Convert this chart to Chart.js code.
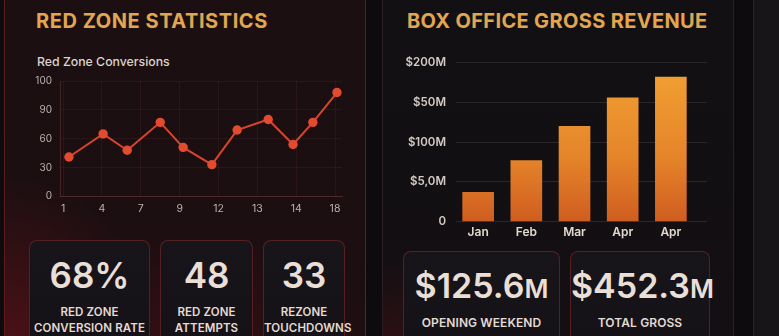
<!DOCTYPE html>
<html>
<head>
<meta charset="utf-8">
<script src="https://cdn.jsdelivr.net/npm/chart.js@4.4.1/dist/chart.umd.min.js"></script>
<style>
  html, body { margin:0; padding:0; }
  body { width:779px; height:336px; overflow:hidden; background:#0d0b0d; position:relative; font-family: Inter, "Noto Sans", sans-serif; }
  .panel { position:absolute; border-radius:10px; box-sizing:border-box; }
  #pl { left:4px; top:-12px; width:362px; height:370px; border:1px solid rgba(120,32,36,0.75);
        background: radial-gradient(ellipse 60% 70% at 0% 100%, rgba(110,20,26,0.6), rgba(0,0,0,0) 70%),
                    radial-gradient(ellipse 80% 50% at 50% 100%, rgba(80,16,20,0.5), rgba(0,0,0,0) 70%),
                    linear-gradient(180deg, #1b0f12 0%, #1c0e11 100%); }
  #pr { left:382px; top:-12px; width:352px; height:370px; border:1px solid rgba(60,40,44,0.6);
        background: radial-gradient(ellipse 50% 40% at 10% 100%, rgba(90,18,24,0.45), rgba(0,0,0,0) 70%),
                    linear-gradient(180deg, #121013 0%, #130f12 100%); }
  #pf { left:753px; top:-12px; width:60px; height:370px; border:1px solid rgba(60,50,50,0.5); background:#171517; }
  .title { position:absolute; color:#e2a651; font-weight:700; font-size:20px; letter-spacing:0.55px; white-space:nowrap; }
  .sub { position:absolute; color:#ddd3cc; font-size:12.3px; font-weight:500; white-space:nowrap; }
  .card { position:absolute; box-sizing:border-box; border:1px solid rgba(130,40,42,0.6); border-radius:8px;
          background:linear-gradient(180deg,#17141a,#141217); text-align:center; color:#e9dfd7; }
  .big { position:absolute; left:0; right:0; font-weight:600; font-size:35px; line-height:1; }
  .big small { font-size:26px; font-weight:600; }
  .lab { position:absolute; left:0; right:0; font-weight:600; font-size:11.5px; line-height:16px; letter-spacing:0.1px; color:#e4dad2; }
  canvas { position:absolute; }
</style>
</head>
<body>
<div class="panel" id="pl"></div>
<div class="panel" id="pr"></div>
<div class="panel" id="pf"></div>

<div class="title" style="left:36px; top:9px;">RED ZONE STATISTICS</div>
<div class="sub" style="left:37px; top:54px;">Red Zone Conversions</div>

<div class="title" style="left:407px; top:9px; letter-spacing:0.35px;">BOX OFFICE GROSS REVENUE</div>

<div style="position:absolute; left:20px; top:67px; width:330px; height:154px;"><canvas id="line"></canvas></div>
<div style="position:absolute; left:398px; top:46px; width:320px; height:198px;"><canvas id="bar"></canvas></div>

<div class="card" style="left:29px; top:240px; width:121px; height:110px;">
  <div class="big" style="top:17px;">68%</div>
  <div class="lab" style="top:63px;">RED ZONE<br>CONVERSION RATE</div>
</div>
<div class="card" style="left:160px; top:240px; width:93px; height:110px;">
  <div class="big" style="top:17px;">48</div>
  <div class="lab" style="top:63px;">RED ZONE<br>ATTEMPTS</div>
</div>
<div class="card" style="left:263px; top:240px; width:82px; height:110px;">
  <div class="big" style="top:17px;">33</div>
  <div class="lab" style="top:63px;">REZONE<br>TOUCHDOWNS</div>
</div>

<div class="card" style="left:403px; top:251px; width:157px; height:100px;">
  <div class="big" style="top:17px; font-size:34px;">$125.6<small>M</small></div>
  <div class="lab" style="top:63px; font-size:12px;">OPENING WEEKEND</div>
</div>
<div class="card" style="left:570px; top:251px; width:140px; height:100px;">
  <div class="big" style="top:17px; font-size:34px;">$452.3<small>M</small></div>
  <div class="lab" style="top:63px; font-size:12px;">TOTAL GROSS</div>
</div>

<script>
// ---- Red Zone Conversions (line) ----
const weekLabels = ["1", "4", "7", "9", "12", "13", "14", "18"];
const weekPositions = [0.15, 1.03, 1.65, 2.50, 3.09, 3.83, 4.48, 5.28, 5.92, 6.43, 7.05];
const conversions = [41, 65, 48, 77, 51, 33, 69, 80, 54, 77, 108];
const conversionTickValues = [0, 30, 60, 90, 120];
const conversionTickLabels = ["0", "30", "60", "90", "100"];

// ---- Box office (bar) ----
const months = ["Jan", "Feb", "Mar", "Apr", "Apr"];
const grossValues = [37, 77, 120, 156, 182];
const grossTickValues = [0, 50, 100, 150, 200];
const grossTickLabels = ["0", "$5,0M", "$100M", "$50M", "$200M"];

const tickColor = "#bcb2ab";
const gridColor = "rgba(120,60,60,0.17)";

new Chart(document.getElementById("line"), {
  type: "line",
  data: {
    datasets: [{
      data: weekPositions.map((x, i) => ({ x: x, y: conversions[i] })),
      borderColor: "#d8432c",
      backgroundColor: "#e24b30",
      borderWidth: 2,
      pointRadius: 4.7,
      pointHoverRadius: 4.7,
      pointBorderWidth: 0,
      tension: 0
    }]
  },
  options: {
    responsive: true, maintainAspectRatio: false, animation: false,
    layout: { padding: { left: 0, right: 8, top: 4, bottom: 0 } },
    plugins: { legend: { display: false }, tooltip: { enabled: false } },
    scales: {
      x: {
        type: "linear", min: -0.08, max: 7.18, offset: false,
        afterBuildTicks: s => { s.ticks = weekLabels.map((l, i) => ({ value: i })); },
        ticks: { color: tickColor, font: { size: 10.5, family: "Inter" }, padding: 6, maxRotation: 0,
                 callback: (v) => weekLabels[Math.round(v)] },
        grid: { color: gridColor, drawTicks: false },
        border: { color: "rgba(130,70,70,0.4)" }
      },
      y: {
        type: "linear", min: 0, max: 120,
        afterBuildTicks: s => { s.ticks = conversionTickValues.map(v => ({ value: v })); },
        afterFit: s => { s.width = 40; },
        ticks: { color: tickColor, font: { size: 10, family: "Inter" }, padding: 8,
                 callback: (v) => conversionTickLabels[conversionTickValues.indexOf(v)] },
        grid: { color: gridColor, drawTicks: false },
        border: { color: "rgba(130,70,70,0.4)" }
      }
    }
  }
});

new Chart(document.getElementById("bar"), {
  type: "bar",
  data: {
    datasets: [{
      data: months.map((m, i) => ({ x: i, y: grossValues[i] })),
      barThickness: 31,
      borderWidth: 0,
      borderRadius: 0,
      backgroundColor: (ctx) => {
        const c = ctx.chart, a = c.chartArea;
        if (!a) return "#e88a2a";
        const g = c.ctx.createLinearGradient(0, a.top, 0, a.bottom);
        g.addColorStop(0, "#f2a233");
        g.addColorStop(0.6, "#e5842a");
        g.addColorStop(1, "#cf5d20");
        return g;
      }
    }]
  },
  options: {
    responsive: true, maintainAspectRatio: false, animation: false,
    layout: { padding: { left: 0, right: 11, top: 6, bottom: 0 } },
    plugins: { legend: { display: false }, tooltip: { enabled: false } },
    scales: {
      x: {
        type: "linear", min: -0.46, max: 4.75, offset: false,
        afterBuildTicks: s => { s.ticks = months.map((m, i) => ({ value: i })); },
        ticks: { color: "#e2d8d0", font: { size: 12, weight: "600", family: "Inter" }, padding: 4, maxRotation: 0,
                 callback: (v) => months[Math.round(v)] },
        grid: { display: false, drawTicks: false, offset: false },
        border: { display: false }
      },
      y: {
        type: "linear", min: 0, max: 200,
        afterBuildTicks: s => { s.ticks = grossTickValues.map(v => ({ value: v })); },
        afterFit: s => { s.width = 58; },
        ticks: { color: "#d4cac3", font: { size: 11.5, weight: "600", family: "Inter" }, padding: 10,
                 callback: (v) => grossTickLabels[grossTickValues.indexOf(v)] },
        grid: { color: "rgba(90,80,90,0.35)", drawTicks: false },
        border: { display: false }
      }
    }
  }
});
</script>
</body>
</html>
